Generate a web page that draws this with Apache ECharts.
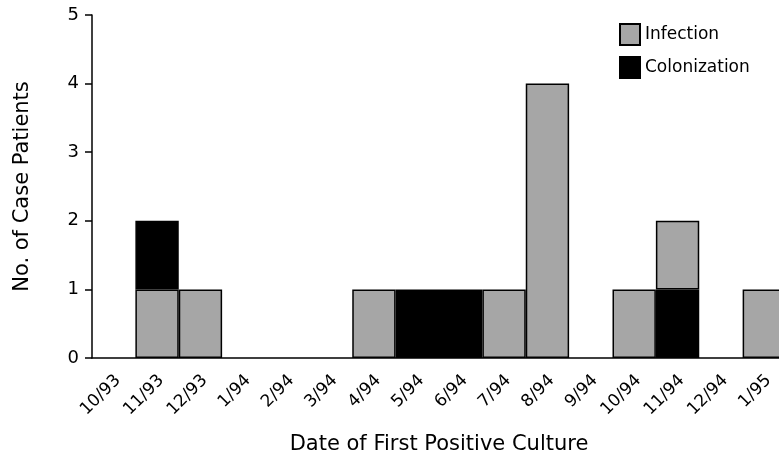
<!DOCTYPE html>
<html>
<head>
<meta charset="utf-8">
<script src="https://cdn.jsdelivr.net/npm/echarts@6/dist/echarts.min.js"></script>
<style>html,body{margin:0;padding:0;background:#fff}#c{width:779px;height:463px}</style>
</head>
<body>
<div id="c"></div>
<script>
const categories = ['10/93','11/93','12/93','1/94','2/94','3/94','4/94','5/94','6/94','7/94','8/94','9/94','10/94','11/94','12/94','1/95'];
// stacked segments, bottom to top
const infectionBottom = [0,1,1,0,0,0,1,0,0,1,4,0,1,0,0,1];
const colonization    = [0,1,0,0,0,0,0,1,1,0,0,0,0,1,0,0];
const infectionTop    = [0,0,0,0,0,0,0,0,0,0,0,0,0,1,0,0];
const yTicks = [0,1,2,3,4,5];

const nz = a => a.map(v => v === 0 ? '-' : v);
const font = '"DejaVu Sans", sans-serif';
const chart = echarts.init(document.getElementById('c'), null, {renderer:'canvas'});
const bar = (name, data, color) => ({
  name, type:'bar', stack:'s', data: nz(data), barWidth:'100%', barCategoryGap:0,
  itemStyle:{color, borderColor:'#000', borderWidth:1.5},
  emphasis:{disabled:true}
});
chart.setOption({
  animation:false,
  textStyle:{fontFamily:font, color:'#000'},
  grid:{left:92, top:15, height:343, width:694, containLabel:false, outerBoundsMode:'none'},
  legend:{
    data:['Infection','Colonization'], orient:'vertical', left:614, top:18,
    itemWidth:20, itemHeight:21, itemGap:10, icon:'rect',
    textStyle:{fontSize:17, color:'#000', fontFamily:font}
  },
  xAxis:{
    type:'category', data:categories,
    axisLine:{lineStyle:{color:'#000', width:1.5}},
    axisTick:{length:8, lineStyle:{color:'#000', width:1.5}},
    axisLabel:{rotate:45, fontSize:17, color:'#000', margin:24, interval:0, fontFamily:font, padding:[0,-6,0,0]},
    name:'Date of First Positive Culture', nameLocation:'middle', nameGap:76,
    nameTextStyle:{fontSize:21, color:'#000', fontFamily:font}
  },
  yAxis:{
    type:'value', min:yTicks[0], max:yTicks[yTicks.length-1], interval:1,
    splitLine:{show:false},
    axisLine:{show:true, lineStyle:{color:'#000', width:1.5}},
    axisTick:{show:true, length:7, lineStyle:{color:'#000', width:1.5}},
    axisLabel:{fontSize:18, color:'#000', margin:13, fontFamily:font},
    name:'No. of Case Patients', nameLocation:'middle', nameGap:59,
    nameTextStyle:{fontSize:21, color:'#000', fontFamily:font}
  },
  series:[
    bar('Infection', infectionBottom, '#a6a6a6'),
    bar('Colonization', colonization, '#000000'),
    bar('Infection', infectionTop, '#a6a6a6')
  ]
});
</script>
</body>
</html>
